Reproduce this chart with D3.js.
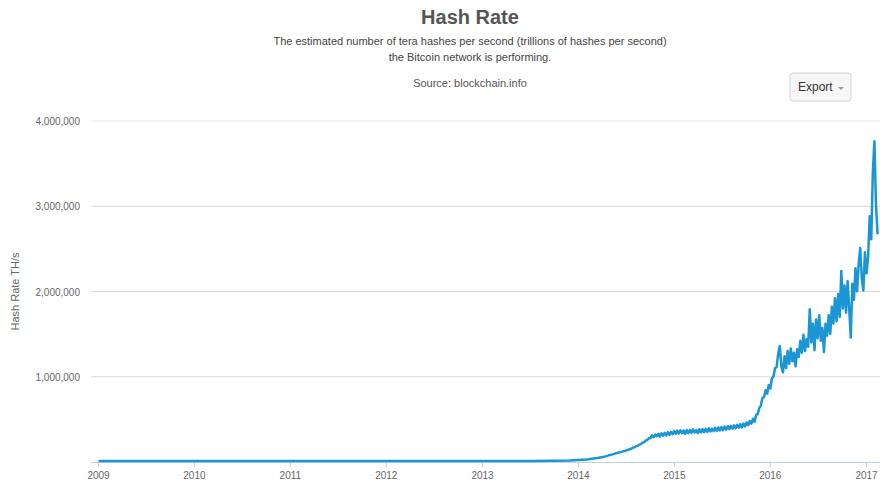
<!DOCTYPE html>
<html>
<head>
<meta charset="utf-8">
<script src="https://cdn.jsdelivr.net/npm/d3@7"></script>
<style>
  body { margin: 0; background: #fff; }
  text { font-family: "Liberation Sans", Arial, sans-serif; }
</style>
</head>
<body>
<svg id="chart" width="880" height="485"></svg>
<script>
// Data (hash rate in thousands of TH/s)
// early years, sparse points
var earlyDates = ["2009-01-03", "2010-01-01", "2011-01-01", "2012-01-01", "2013-01-01", "2013-07-01", "2013-10-01", "2013-12-01"];
var earlyRate = [0, 0, 0.0001, 0.009, 0.025, 0.3, 1.5, 6];

// from 2014-01-01 on, one reading every 6 days
var seriesStart = "2014-01-01";
var stepDays = 6;
var hashRate = [
  12, 13, 14, 14, 16, 18, 19, 21, 24, 27,
  30, 32, 34, 37, 41, 45, 48, 52, 57, 63,
  70, 73, 78, 84, 90, 95, 100, 104, 110, 116,
  120, 128, 131, 142, 145, 158, 160, 175, 178, 195,
  198, 218, 220, 242, 246, 270, 268, 300, 280, 310,
  290, 318, 286, 325, 298, 330, 300, 338, 305, 342,
  315, 352, 318, 356, 322, 360, 326, 358, 318, 364,
  326, 366, 330, 370, 334, 362, 328, 372, 335, 374,
  338, 378, 340, 384, 346, 380, 350, 390, 352, 394,
  358, 398, 362, 404, 368, 408, 374, 412, 378, 418,
  384, 424, 390, 432, 395, 440, 405, 452, 420, 470,
  438, 495, 460, 540, 550, 620, 650, 740, 750, 830,
  790, 890, 850, 970, 990, 1090, 1100, 1260, 1350, 1110,
  1040, 1230, 1090, 1290, 1140, 1320, 1170, 1270, 1110, 1310,
  1220, 1410, 1270, 1480, 1290, 1430, 1340, 1780, 1390, 1610,
  1300, 1660, 1440, 1710, 1410, 1560, 1280, 1610, 1470, 1710,
  1490, 1810, 1610, 1910, 1640, 1960, 1690, 2230, 1790, 2060,
  1740, 2110, 1790, 1450, 2080, 1890, 2260, 1990, 2310, 2500,
  2140, 2000, 2450, 2200, 2390, 2870, 2600, 3390, 3750, 3000,
  2660
];

var yearTicks = ["2009", "2010", "2011", "2012", "2013", "2014", "2015", "2016", "2017"];
var yTicks = [0, 1000000, 2000000, 3000000, 4000000];

var titleText = "Hash Rate";
var subtitleLines = ["The estimated number of tera hashes per second (trillions of hashes per second)", "the Bitcoin network is performing."];
var sourceText = "Source: blockchain.info";
var yTitle = "Hash Rate TH/s";

// build rows
var parse = d3.timeParse("%Y-%m-%d");
var rows = earlyDates.map(function(d, i) { return { date: parse(d), value: earlyRate[i] * 1000 }; });
var start = parse(seriesStart);
hashRate.forEach(function(v, i) {
  rows.push({ date: d3.timeDay.offset(start, i * stepDays), value: v * 1000 });
});

var svg = d3.select("#chart");
var cx = 470;

// titles
svg.append("text").attr("x", cx).attr("y", 24).attr("text-anchor", "middle")
    .attr("font-size", 20).attr("font-weight", "bold").attr("fill", "#555").text(titleText);
subtitleLines.forEach(function(t, i) {
  svg.append("text").attr("x", cx).attr("y", 45 + i * 16).attr("text-anchor", "middle")
      .attr("font-size", 11).attr("fill", "#444").text(t);
});
svg.append("text").attr("x", cx).attr("y", 87).attr("text-anchor", "middle")
    .attr("font-size", 11).attr("fill", "#555").text(sourceText);

// export button
var btn = svg.append("g").attr("transform", "translate(790,73)");
btn.append("rect").attr("width", 61).attr("height", 28).attr("rx", 3)
    .attr("fill", "#f6f6f6").attr("stroke", "#d4d4d4");
btn.append("text").attr("x", 8).attr("y", 18).attr("font-size", 12).attr("fill", "#333").text("Export");
btn.append("path").attr("d", "M48,14 L54,14 L51,17 Z").attr("fill", "#999");

// scales
var x = d3.scaleTime()
    .domain([parse("2009-01-01"), parse("2017-01-01")])
    .range([98, 866]);
var y = d3.scaleLinear().domain([0, 4000000]).range([462, 121]);

// grid + y labels
var grid = svg.append("g");
yTicks.slice(1).forEach(function(t) {
  grid.append("line").attr("x1", 91).attr("x2", 880)
      .attr("y1", y(t)).attr("y2", y(t))
      .attr("stroke", t === 4000000 ? "#e8e8e8" : "#d8d8d8").attr("stroke-width", 1);
  grid.append("text").attr("x", 80).attr("y", y(t) + 4).attr("text-anchor", "end")
      .attr("font-size", 10).attr("fill", "#666").text(d3.format(",")(t));
});

svg.append("text")
    .attr("transform", "translate(19," + y(2000000) + ") rotate(-90)")
    .attr("text-anchor", "middle").attr("font-size", 11).attr("fill", "#666").text(yTitle);

// x axis
var xAxis = d3.axisBottom(x)
    .tickValues(yearTicks.map(function(t) { return parse(t + "-01-01"); }))
    .tickFormat(d3.timeFormat("%Y"))
    .tickSize(5);
var gx = svg.append("g").attr("transform", "translate(0," + y(0) + ")").call(xAxis);
gx.select(".domain").attr("d", "M91,0.5H880").attr("stroke", "#c0d0e0");
gx.selectAll(".tick line").attr("stroke", "#c0d0e0");
gx.selectAll(".tick text").attr("font-size", 10).attr("fill", "#666").attr("dy", "0.9em")
    .attr("font-family", "Liberation Sans, Arial, sans-serif");

// line
var line = d3.line()
    .x(function(d) { return x(d.date); })
    .y(function(d) { return y(d.value) - 1; });

svg.append("path").datum(rows)
    .attr("d", line)
    .attr("fill", "none")
    .attr("stroke", "#1a96d4")
    .attr("stroke-width", 2.5)
    .attr("stroke-linejoin", "round");
</script>
</body>
</html>
